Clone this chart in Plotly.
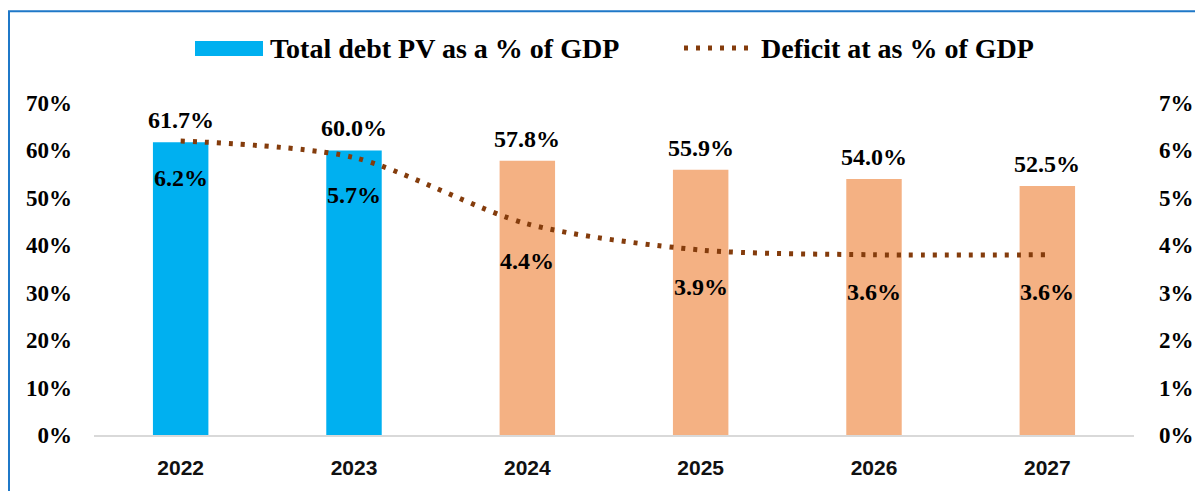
import plotly.graph_objects as go

# ---- data ----
years = ["2022", "2023", "2024", "2025", "2026", "2027"]
debt_pct = [61.7, 60.0, 57.8, 55.9, 54.0, 52.5]
deficit_pct = [6.2, 5.85, 4.45, 3.9, 3.8, 3.8]          # plotted positions
deficit_labels = ["6.2%", "5.7%", "4.4%", "3.9%", "3.6%", "3.6%"]  # data-label texts
debt_labels = ["61.7%", "60.0%", "57.8%", "55.9%", "54.0%", "52.5%"]
projected = [False, False, True, True, True, True]
left_ticks = [0, 10, 20, 30, 40, 50, 60, 70]
right_ticks = [0, 1, 2, 3, 4, 5, 6, 7]
legend_names = ["Total debt PV as a % of GDP", "Deficit at as % of GDP"]

# ---- style ----
OFF = 8                      # page body margin
W, H = 1203 - OFF, 491 - OFF
L, R, T, B = 94, 1134, 103, 435.5   # plot area in screenshot pixels
BLUE = "#00B0F0"
PEACH = "#F4B183"
BROWN = "#843C0C"
SERIF = "Liberation Serif"
DOTS = "4px,8px"


def px_x(p):
    return (p - L) / (R - L)


def px_y(p):
    return (B - p) / (B - T)


bar_colors = [PEACH if p else BLUE for p in projected]

fig = go.Figure()
fig.add_trace(go.Bar(
    x=years, y=debt_pct, name=legend_names[0],
    marker=dict(color=bar_colors, line=dict(width=0)),
    width=0.32, showlegend=False, yaxis="y",
))
fig.add_trace(go.Scatter(
    x=years, y=deficit_pct, name=legend_names[1], mode="lines",
    line=dict(color=BROWN, width=5, dash=DOTS, shape="spline", smoothing=0.8),
    showlegend=False, yaxis="y2",
))

annotations = []
for i, (v, t) in enumerate(zip(debt_pct, debt_labels)):
    annotations.append(dict(x=i, y=v, xref="x", yref="y", text=t, showarrow=False,
                            yanchor="middle", yshift=22,
                            font=dict(family=SERIF, size=24, color="black", weight="bold")))
for i, (v, t) in enumerate(zip(deficit_pct, deficit_labels)):
    annotations.append(dict(x=i, y=v, xref="x", yref="y2", text=t, showarrow=False,
                            yanchor="middle", yshift=-37,
                            font=dict(family=SERIF, size=24, color="black", weight="bold")))

# manual legend
annotations.append(dict(x=px_x(268), y=px_y(48), xref="paper", yref="paper", text=legend_names[0],
                        showarrow=False, xanchor="left", yanchor="middle",
                        font=dict(family=SERIF, size=28, color="black", weight="bold")))
annotations.append(dict(x=px_x(759), y=px_y(48), xref="paper", yref="paper", text=legend_names[1],
                        showarrow=False, xanchor="left", yanchor="middle",
                        font=dict(family=SERIF, size=28, color="black", weight="bold")))

shapes = [
    dict(type="rect", xref="paper", yref="paper", x0=px_x(195), x1=px_x(263), y0=px_y(41), y1=px_y(56),
         fillcolor=BLUE, line=dict(width=0)),
    dict(type="line", xref="paper", yref="paper", x0=px_x(684), x1=px_x(754), y0=px_y(48), y1=px_y(48),
         line=dict(color=BROWN, width=5, dash=DOTS)),
    dict(type="rect", xref="paper", yref="paper", x0=px_x(9), x1=px_x(1215), y0=px_y(11), y1=px_y(500),
         line=dict(color="#1F78C8", width=2), fillcolor="rgba(0,0,0,0)", layer="above"),
]

fig.update_layout(
    width=W, height=H,
    margin=dict(l=L - OFF, r=W - (R - OFF), t=T - OFF, b=H - (B - OFF), pad=0),
    paper_bgcolor="white", plot_bgcolor="white",
    showlegend=False,
    annotations=annotations, shapes=shapes,
    xaxis=dict(type="category", range=[-0.5, len(years) - 0.5], automargin=False,
               showgrid=False, showline=True, linecolor="#D9D9D9", linewidth=2,
               ticks="", ticklabelstandoff=13,
               tickfont=dict(family="Liberation Sans", size=21, color="#111111", weight="bold")),
    yaxis=dict(range=[0, 70], tickvals=left_ticks, ticktext=[f"{v}%" for v in left_ticks],
               automargin=False, showgrid=False, zeroline=False,
               showline=False, ticks="", ticklabelstandoff=21,
               tickfont=dict(family=SERIF, size=23, color="black", weight="bold")),
    yaxis2=dict(range=[0, 7], tickvals=right_ticks, ticktext=[f"{v}%" for v in right_ticks],
                overlaying="y", side="right", automargin=False,
                showgrid=False, zeroline=False, showline=False, ticks="", ticklabelstandoff=24,
                tickfont=dict(family=SERIF, size=23, color="black", weight="bold")),
)

fig.write_html("out.html")
